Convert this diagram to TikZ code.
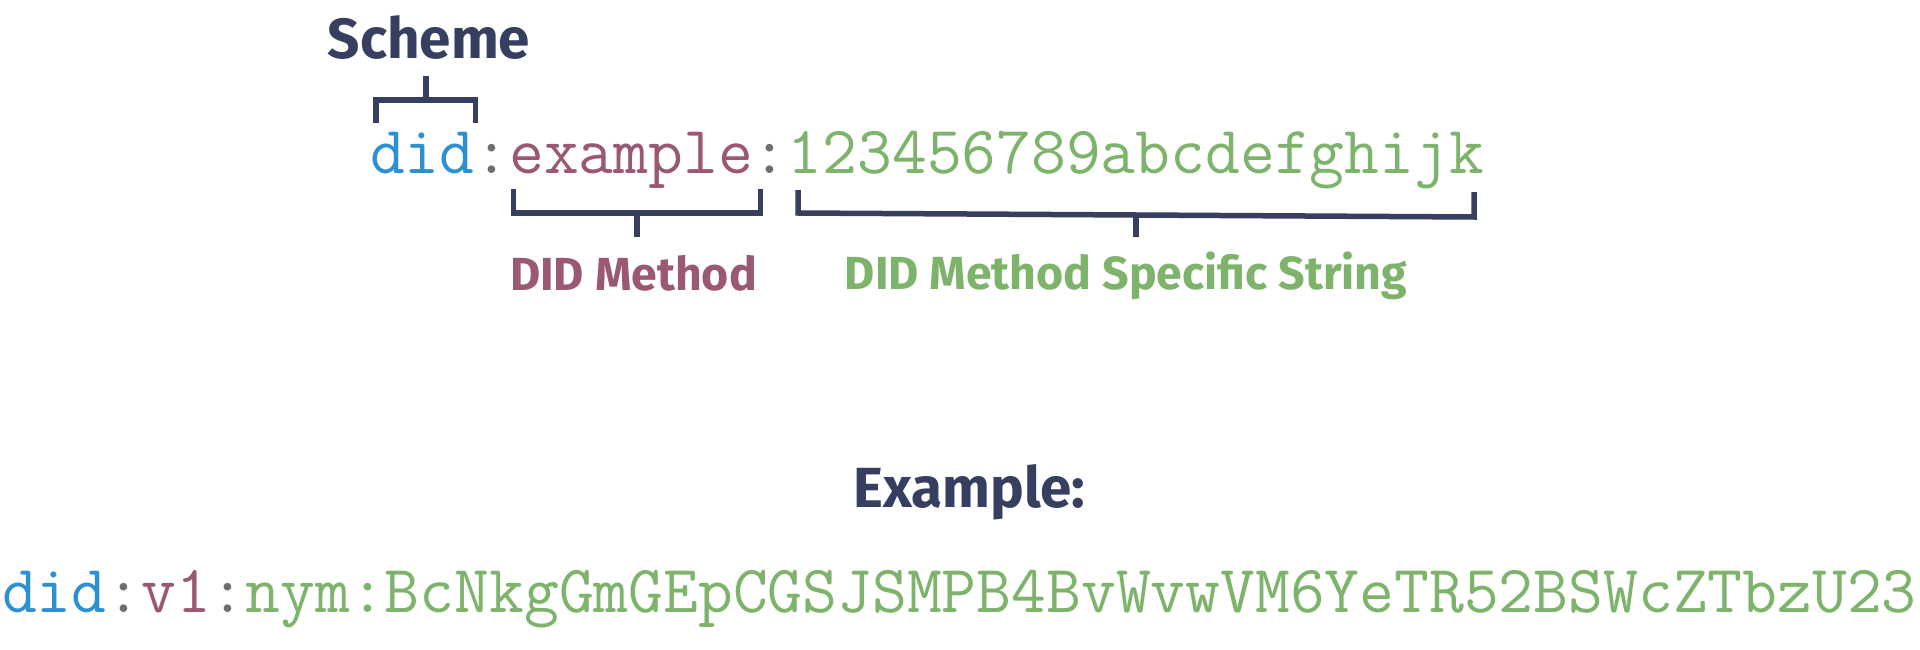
\documentclass[tikz,border=0pt]{standalone}
\usepackage{fontspec}
\newfontfamily\labf{Fira Sans}
\definecolor{navy}{HTML}{363F5F}
\definecolor{didblue}{HTML}{2B91D2}
\definecolor{mauve}{HTML}{9B5874}
\definecolor{dgreen}{HTML}{7DB36A}
\definecolor{colgray}{HTML}{6D6E72}
\tikzset{
  mono/.style={font=\ttfamily\fontsize{67.6}{70}\selectfont, inner sep=0pt, outer sep=0pt, anchor=base west},
  biglab/.style={font=\labf\bfseries\fontsize{56.6}{60}\selectfont, text=navy, inner sep=0pt, anchor=base},
  smalllab/.style={font=\labf\bfseries\fontsize{46.4}{50}\selectfont, inner sep=0pt, anchor=base},
  brack/.style={draw=navy, line width=5.5pt, miter limit=10, line join=miter}
}
\begin{document}
\begin{tikzpicture}[x=1pt,y=-1pt]
\useasboundingbox (0,0) rectangle (1920,650);
\fill[white] (0,0) rectangle (1920,650);
% main line
\node[mono, text=didblue] (d1) at (370,173) {did};
\node[mono, text=colgray] (c1) at (d1.base east) {:};
\node[mono, text=mauve] (m1) at (c1.base east) {example};
\node[mono, text=colgray] (c2) at (m1.base east) {:};
\node[mono, text=dgreen] (s1) at (c2.base east) {123456789abcdefghijk};
% labels
\node[biglab] (scheme) at (429,59) {Scheme};
\node[smalllab, text=mauve] (methodlab) at (633.5,290) {DID Method};
\node[smalllab, text=dgreen] (msslab) at (1126,289) {DID Method Specific String};
% brackets
\coordinate (sbl) at (376,123); \coordinate (sbr) at (475.5,123);
\coordinate (stop) at (426,76); \coordinate (smid) at (426,100);
\draw[brack] (sbl) -- (376,100) -- (475.5,100) -- (sbr);
\draw[brack] (stop) -- (smid);
\coordinate (ebl) at (513.5,189); \coordinate (ebr) at (760.5,189);
\coordinate (emid) at (637,213); \coordinate (ebot) at (637,237);
\draw[brack] (ebl) -- (513.5,213) -- (760.5,213) -- (ebr);
\draw[brack] (emid) -- (ebot);
\coordinate (gbl) at (798,190); \coordinate (gbr) at (1474,192);
\coordinate (gmid) at (1136,214); \coordinate (gbot) at (1136,237);
\draw[brack] (gbl) -- (798,213) -- (1474,217) -- (gbr);
\draw[brack] (gmid) -- (gbot);
% example
\node[biglab] (exlab) at (969.5,507) {Example:};
\node[mono, text=didblue] (e1) at (2,612) {did};
\node[mono, text=colgray] (e2) at (e1.base east) {:};
\node[mono, text=mauve] (e3) at (e2.base east) {v1};
\node[mono, text=colgray] (e4) at (e3.base east) {:};
\node[mono, text=dgreen] (e5) at (e4.base east) {nym:BcNkgGmGEpCGSJSMPB4BvWvwVM6YeTR52BSWcZTbzU23};
\end{tikzpicture}
\end{document}
